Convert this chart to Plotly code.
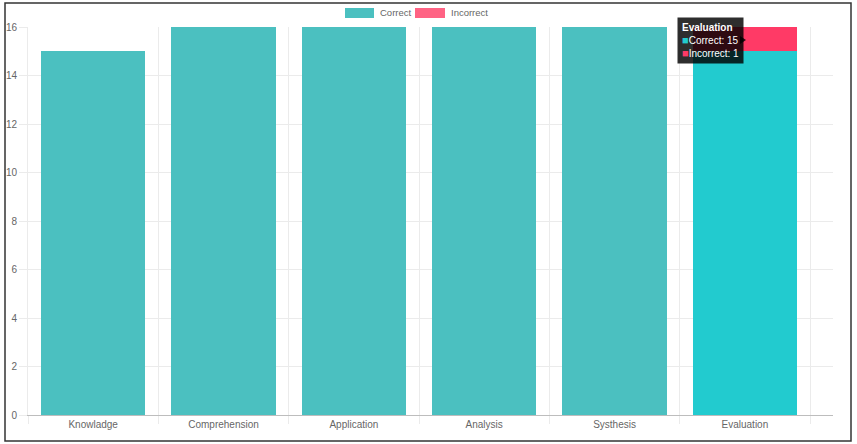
import plotly.graph_objects as go

categories = ["Knowladge", "Comprehension", "Application", "Analysis", "Systhesis", "Evaluation"]
correct = [15, 16, 16, 16, 16, 15]
incorrect = [0, 0, 0, 0, 0, 1]
correct_colors = ["#4BC0C0"] * 5 + ["#22CBCF"]
incorrect_colors = ["#FF6384"] * 5 + ["#FF3A66"]
y_ticks = [0, 2, 4, 6, 8, 10, 12, 14, 16]
series_names = ["Correct", "Incorrect"]
legend_colors = ["#4BC0C0", "#FF6384"]

fig = go.Figure()
fig.add_trace(go.Bar(x=categories, y=correct, name=series_names[0],
                     marker=dict(color=correct_colors, line=dict(width=0))))
fig.add_trace(go.Bar(x=categories, y=incorrect, name=series_names[1],
                     marker=dict(color=incorrect_colors, line=dict(width=0))))

font_fam = "Liberation Sans, Arial, sans-serif"
L, R, T, B = 28, 24, 27, 29
PW, PH = 857 - L - R, 444 - T - B

def px(x):
    return (x - L) / PW

def py(y):
    return (444 - B - y) / PH

fig.update_layout(
    barmode="stack",
    bargap=0.2,
    width=857, height=444,
    margin=dict(l=L, r=R, t=T, b=B, autoexpand=False),
    paper_bgcolor="white", plot_bgcolor="white",
    font=dict(family=font_fam, size=10, color="#666"),
    showlegend=False,
    xaxis=dict(type="category", tickson="boundaries", showgrid=True,
               range=[-0.5, 5.676],
               gridcolor="#ebebeb", gridwidth=1, ticks="outside", ticklen=8,
               tickcolor="#ebebeb", showline=True, linecolor="#bdbdbd",
               linewidth=1, tickfont=dict(size=10, color="#666"), automargin=False),
    yaxis=dict(range=[0, 16], tickvals=y_ticks, showgrid=True, gridcolor="#ebebeb",
               ticks="outside", ticklen=8, tickcolor="#ebebeb", showline=True,
               linecolor="#ebebeb", zeroline=False, automargin=False,
               tickfont=dict(size=10, color="#666")),
)

# outer frame
fig.add_shape(type="rect", xref="paper", yref="paper",
              x0=px(5), x1=px(851), y0=py(441), y1=py(3),
              line=dict(color="#333", width=1.5), layer="below")

# custom legend (wide colour boxes like the reference)
legend_boxes = [(345, 374, 378), (415, 445, 449)]
for (bx0, bx1, tx), name, col in zip(legend_boxes, series_names, legend_colors):
    fig.add_shape(type="rect", xref="paper", yref="paper", x0=px(bx0), x1=px(bx1),
                  y0=py(18), y1=py(8), line=dict(width=0), fillcolor=col)
    fig.add_annotation(xref="paper", yref="paper", x=px(tx), y=py(13), xanchor="left",
                       yanchor="middle", text=name, showarrow=False,
                       font=dict(size=9.5, color="#666", family=font_fam))

# tooltip
tip = ("<b>Evaluation</b><br>"
       "<span style='color:#22CBCF;font-size:11px'>■</span>Correct: 15<br>"
       "<span style='color:#FF3A66;font-size:11px'>■</span>Incorrect: 1")
fig.add_annotation(xref="paper", yref="paper", x=px(677), y=py(17),
                   xanchor="left", yanchor="top", text=tip, showarrow=False,
                   align="left", bgcolor="rgba(0,0,0,0.82)",
                   font=dict(color="white", size=10, family=font_fam),
                   borderpad=4)
# tooltip caret
fig.add_shape(type="path", xref="paper", yref="paper",
              path=f"M {px(740)} {py(36)} L {px(746)} {py(40)} L {px(740)} {py(44)} Z",
              fillcolor="rgba(0,0,0,0.82)", line=dict(width=0))

fig.write_html("out.html")
